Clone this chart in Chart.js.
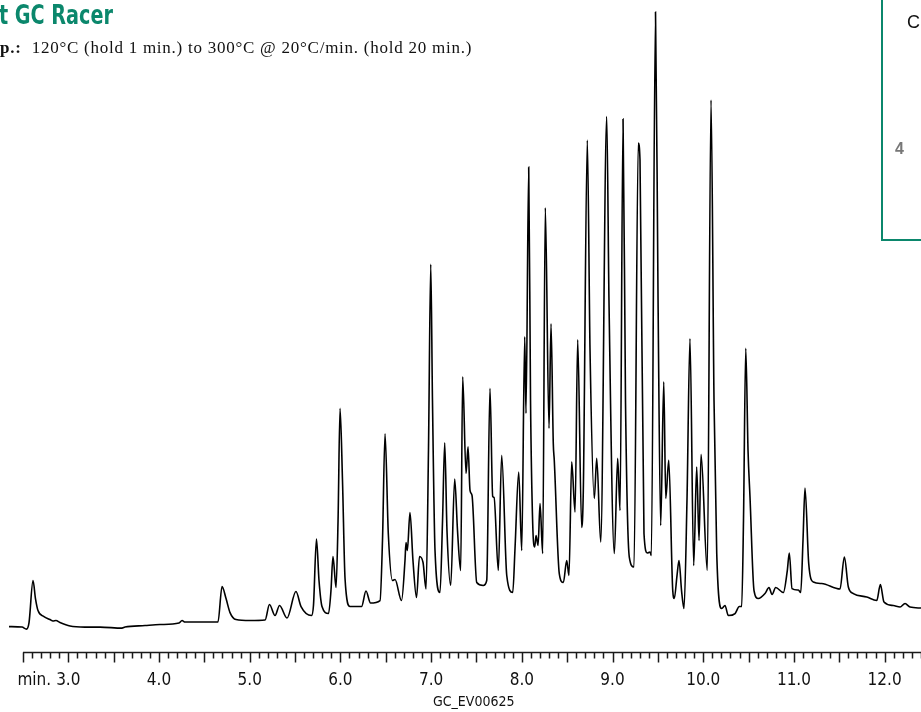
<!DOCTYPE html>
<html>
<head>
<meta charset="utf-8">
<script src="https://cdn.jsdelivr.net/npm/chart.js@4.4.1/dist/chart.umd.min.js"></script>
<style>
  html, body { margin: 0; padding: 0; background: #fff; }
  body { width: 921px; height: 712px; position: relative; overflow: hidden; }
  #chart { position: absolute; left: 0; top: 0; }
  .title {
    position: absolute; left: -1px; top: 0px; white-space: nowrap;
    font: bold 26px "DejaVu Sans Condensed", "Liberation Sans", sans-serif;
    color: #0b876c; transform: scaleX(0.82); transform-origin: 0 0;
  }
  .sub {
    position: absolute; left: 0; top: 38px; white-space: nowrap;
    font: 17px "Liberation Serif", "DejaVu Serif", serif; color: #111;
    letter-spacing: 0.75px;
  }
  .inset {
    position: absolute; left: 881px; top: -12px; width: 60px; height: 253px;
    border: 2px solid #0b876c; box-sizing: border-box;
  }
  .inset .c { position: absolute; left: 24px; top: 22px; font: 18px "Liberation Sans", Arial, sans-serif; color: #111; }
  .inset .n { position: absolute; left: 12px; top: 150px; font: bold 16px "Liberation Sans", Arial, sans-serif; color: #777; }
  .code {
    position: absolute; left: 433px; top: 693px; white-space: nowrap;
    font: 14px "DejaVu Sans Condensed", "Liberation Sans", sans-serif; color: #111;
  }
</style>
</head>
<body>
<canvas id="chart" width="921" height="712"></canvas>
<div class="title">t GC Racer</div>
<div class="sub"><b>p.:</b>&nbsp; 120°C (hold 1 min.) to 300°C @ 20°C/min. (hold 20 min.)</div>
<div class="inset"><span class="c">C</span><span class="n">4</span></div>
<div class="code">GC_EV00625</div>
<script>
// retention time (min) and detector response (arbitrary units)
const retentionTimes = [
  2.346, 2.490, 2.539, 2.567, 2.611, 2.638, 2.666, 2.732, 2.798, 2.831,
  2.864, 2.908, 3.019, 3.184, 3.350, 3.592, 3.625, 3.846, 4.011, 4.221,
  4.254, 4.287, 4.452, 4.650, 4.695, 4.739, 4.783, 4.849, 5.003, 5.169,
  5.218, 5.279, 5.329, 5.411, 5.510, 5.566, 5.681, 5.703, 5.736, 5.764,
  5.797, 5.869, 5.896, 5.918, 5.952, 5.974, 5.996, 6.023, 6.051, 6.106,
  6.233, 6.282, 6.332, 6.437, 6.464, 6.492, 6.528, 6.574, 6.602, 6.674,
  6.712, 6.723, 6.738, 6.767, 6.800, 6.839, 6.872, 6.911, 6.944, 6.971,
  6.996, 7.015, 7.043, 7.098, 7.126, 7.150, 7.175, 7.216, 7.260, 7.291,
  7.326, 7.348, 7.385, 7.407, 7.429, 7.451, 7.503, 7.575, 7.613, 7.649,
  7.679, 7.694, 7.741, 7.778, 7.834, 7.900, 7.925, 7.966, 7.999, 8.032,
  8.046, 8.076, 8.096, 8.120, 8.142, 8.157, 8.179, 8.201, 8.230, 8.259,
  8.300, 8.322, 8.347, 8.358, 8.413, 8.458, 8.495, 8.520, 8.550, 8.587,
  8.616, 8.660, 8.678, 8.722, 8.752, 8.799, 8.826, 8.870, 8.936, 8.961,
  9.020, 9.057, 9.083, 9.116, 9.143, 9.185, 9.237, 9.284, 9.303, 9.347,
  9.384, 9.413, 9.428, 9.474, 9.502, 9.531, 9.565, 9.587, 9.620, 9.664,
  9.681, 9.711, 9.733, 9.761, 9.788, 9.821, 9.854, 9.895, 9.928, 9.954,
  9.976, 10.045, 10.086, 10.119, 10.149, 10.204, 10.240, 10.277, 10.351, 10.398,
  10.424, 10.444, 10.469, 10.494, 10.516, 10.560, 10.607, 10.681, 10.725, 10.759,
  10.799, 10.883, 10.927, 10.949, 10.979, 11.049, 11.075, 11.100, 11.122, 11.163,
  11.214, 11.306, 11.508, 11.556, 11.600, 11.655, 11.803, 11.913, 11.953, 11.993,
  12.096, 12.170, 12.225, 12.280, 12.401
];
const response = [
  0, -0.5, -2.5, 4, 46, 28, 16, 10, 7, 5.5,
  6, 4, 0.5, -0.5, -0.5, -1.5, -0.5, 1, 2, 3.5,
  6, 4.5, 4.5, 4.5, 40, 28, 14, 7, 6, 6.5,
  22, 11, 21, 8.5, 35, 20, 11, 21, 87.5, 46,
  20, 13, 36, 70, 39, 106, 218, 146, 48, 20,
  20, 35.5, 23.5, 26, 86, 192.5, 93, 46, 47, 26,
  66, 84, 76, 114, 66, 29, 70, 64, 37.5, 176,
  362, 226, 76, 34, 106, 183.5, 96, 41, 147.5, 96,
  56, 249.5, 153, 179.5, 136, 131, 44, 41, 46, 238,
  130, 129, 56, 171, 51, 34, 78, 154.5, 76, 289.5,
  213, 459, 226, 103, 79.5, 91, 81, 123, 73, 418.5,
  198, 302.5, 183, 166, 53, 44, 66, 51, 164.5, 114.5,
  286.5, 99, 136, 486, 276, 128, 168, 84.5, 509.5, 326,
  73, 168, 116, 507, 226, 69.5, 59.5, 483, 466, 93,
  73.5, 74.5, 71, 614, 326, 101, 244.5, 128, 166, 36,
  28, 51, 66, 36, 18, 126, 287.5, 61, 159.5, 86,
  172, 56, 526, 226, 73, 18, 21, 11, 13, 20,
  20, 106, 278, 176, 129, 36, 28, 33, 39, 32,
  39, 34, 56, 73.5, 38, 36.5, 34, 86, 138.5, 63,
  44.5, 43, 37.5, 69.5, 39.5, 33, 29.5, 26, 42, 24.5,
  21, 19.5, 23, 19.5, 18.5
];
const labelTimes = [3, 4, 5, 6, 7, 8, 9, 10, 11, 12];

const axisStart = 2.5;   // first tick of the time axis
const minorStep = 0.1;
const fontNarrow = '"DejaVu Sans Condensed", "Liberation Sans", sans-serif';

const points = retentionTimes.map((t, i) => ({ x: t, y: response[i] }));

// axis line with long ticks every 0.5 min and short ticks every 0.1 min
const timeAxis = {
  id: 'timeAxis',
  afterDraw(chart) {
    const { ctx, chartArea, scales: { x } } = chart;
    const y0 = chartArea.bottom;
    ctx.save();
    ctx.strokeStyle = '#1a1a1a';
    ctx.lineWidth = 1.5;
    ctx.beginPath();
    ctx.moveTo(x.getPixelForValue(axisStart), y0);
    ctx.lineTo(chartArea.right, y0);
    for (let i = 0; axisStart + i * minorStep <= x.max; i++) {
      const px = Math.round(x.getPixelForValue(axisStart + i * minorStep)) + 0.5;
      ctx.moveTo(px, y0);
      ctx.lineTo(px, y0 + (i % 5 === 0 ? 10 : 6));
    }
    ctx.stroke();
    // unit prefix in front of the first label
    ctx.font = '17px ' + fontNarrow;
    ctx.fillStyle = '#111';
    ctx.textAlign = 'right';
    ctx.textBaseline = 'alphabetic';
    const p3 = x.getPixelForValue(labelTimes[0]);
    ctx.fillText('min.', p3 - ctx.measureText('3.0').width / 2 - 5, y0 + 32);
    ctx.restore();
  }
};

new Chart(document.getElementById('chart'), {
  type: 'line',
  data: {
    datasets: [{
      data: points,
      borderColor: '#000',
      borderWidth: 1.6,
      pointRadius: 0,
      fill: false,
      cubicInterpolationMode: 'monotone'
    }]
  },
  options: {
    responsive: false,
    animation: false,
    devicePixelRatio: 1,
    layout: { padding: { left: 0, right: 0, top: 0, bottom: 3 } },
    plugins: { legend: { display: false }, tooltip: { enabled: false } },
    scales: {
      x: {
        type: 'linear',
        min: 2.247,
        max: 12.401,
        grid: { display: false, drawTicks: false },
        border: { display: false },
        afterBuildTicks: axis => { axis.ticks = labelTimes.map(v => ({ value: v })); },
        ticks: {
          autoSkip: false,
          maxRotation: 0,
          padding: 18,
          color: '#111',
          font: { size: 17, family: fontNarrow },
          callback: v => v.toFixed(1)
        }
      },
      y: {
        display: false,
        min: -26,
        max: 626
      }
    }
  },
  plugins: [timeAxis]
});
</script>
</body>
</html>
